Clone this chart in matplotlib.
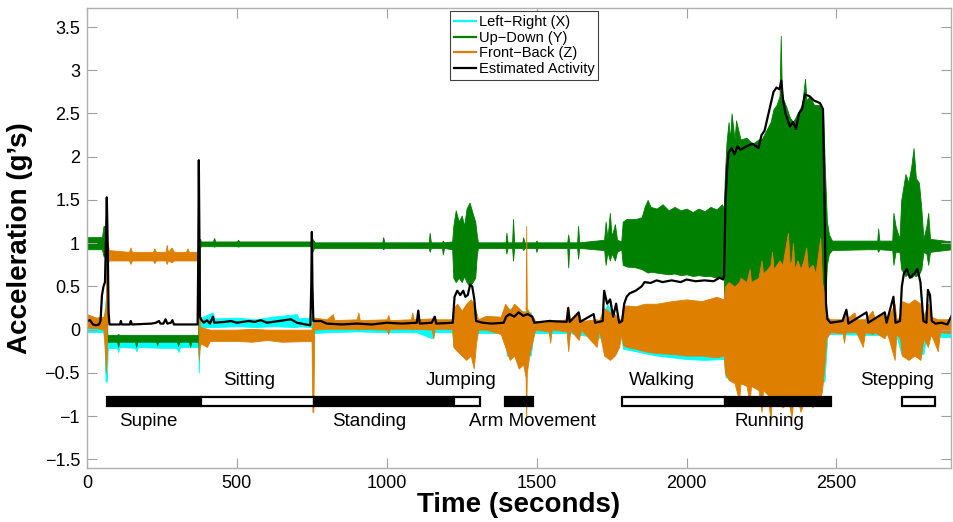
import matplotlib
matplotlib.use("Agg")
import matplotlib.pyplot as plt
from matplotlib.lines import Line2D
from matplotlib.patches import Rectangle
from matplotlib.ticker import FuncFormatter
import numpy as np

plt.rcParams['font.family'] = ['Liberation Sans', 'DejaVu Sans']

# ---------------- data ----------------
# envelopes: (time s, lower g, upper g)
leftright_env = [
    (0, -0.03, 0.08), (54, -0.03, 0.08), (58, -0.12, 0.2), (62, -0.6, 0.35), (66, -0.6, 0.3),
    (69, -0.24, -0.1), (72, -0.21, -0.12), (100, -0.21, -0.12), (104, -0.26, -0.12), (108, -0.2, -0.12),
    (160, -0.21, -0.12), (165, -0.25, -0.12), (170, -0.2, -0.12), (250, -0.21, -0.12), (300, -0.21, -0.12),
    (305, -0.26, -0.12), (310, -0.2, -0.12), (371, -0.2, -0.12), (373, -0.5, 0.15), (376, -0.05, 0.14),
    (380, 0.03, 0.14), (420, 0.03, 0.2), (425, 0.03, 0.13), (500, 0.04, 0.14), (560, 0.03, 0.12),
    (620, 0.04, 0.15), (700, 0.03, 0.18), (705, 0.04, 0.13), (749, 0.03, 0.14), (752, -0.35, 0.1),
    (757, -0.04, 0.05), (800, -0.03, 0.05), (900, -0.02, 0.04), (1000, -0.03, 0.05), (1100, -0.03, 0.05),
    (1150, -0.1, 0.05), (1155, -0.03, 0.05), (1218, -0.03, 0.05), (1225, -0.2, 0.2), (1290, -0.25, 0.25),
    (1300, -0.04, 0.06), (1395, -0.04, 0.06), (1400, -0.3, 0.25), (1480, -0.3, 0.2), (1490, -0.04, 0.06),
    (1600, -0.04, 0.06), (1605, -0.2, 0.1), (1610, -0.04, 0.06), (1720, -0.1, 0.1), (1735, -0.28, 0.3),
    (1750, -0.25, 0.2), (1765, -0.28, 0.15), (1780, -0.06, 0.06), (1788, -0.22, 0.25), (1830, -0.25, 0.25),
    (1900, -0.3, 0.27), (1950, -0.32, 0.28), (2000, -0.34, 0.3), (2060, -0.35, 0.3), (2124, -0.34, 0.3),
    (2130, -0.55, 0.4), (2460, -0.6, 0.4), (2470, -0.05, 0.06), (2600, -0.06, 0.06), (2700, -0.07, 0.06),
    (2716, -0.28, 0.2), (2790, -0.28, 0.2), (2800, -0.07, 0.06), (2885, -0.09, 0.06),
]

updown_env = [
    (0, 0.93, 1.07), (50, 0.93, 1.07), (55, 0.85, 1.2), (63, 0.85, 1.2), (66, -0.15, -0.05),
    (70, -0.14, -0.06), (100, -0.14, -0.06), (104, -0.2, -0.05), (108, -0.14, -0.06), (160, -0.14, -0.06),
    (164, -0.2, -0.06), (168, -0.14, -0.06), (230, -0.14, -0.06), (234, -0.18, -0.06), (238, -0.14, -0.06),
    (300, -0.14, -0.06), (304, -0.19, -0.06), (308, -0.14, -0.06), (340, -0.14, -0.06), (344, -0.2, -0.06),
    (348, -0.14, -0.06), (371, -0.14, -0.06), (373, -0.3, 1.05), (377, 0.95, 1.05), (380, 0.965, 1.02),
    (420, 0.965, 1.02), (424, 0.96, 1.06), (428, 0.965, 1.02), (500, 0.965, 1.02), (504, 0.96, 1.04),
    (508, 0.965, 1.02), (750, 0.965, 1.02), (752, 0.9, 1.05), (758, 0.95, 1.02), (760, 0.945, 1.01),
    (985, 0.945, 1.01), (988, 0.93, 1.07), (992, 0.945, 1.01), (1140, 0.945, 1.01), (1143, 0.9, 1.12),
    (1147, 0.945, 1.01), (1184, 0.945, 1.01), (1187, 0.87, 1.03), (1191, 0.945, 1.01), (1218, 0.93, 1.02),
    (1222, 0.6, 1.2), (1230, 0.55, 1.38), (1240, 0.6, 1.25), (1250, 0.55, 1.32), (1258, 0.62, 1.2),
    (1266, 0.55, 1.4), (1276, 0.5, 1.47), (1286, 0.55, 1.35), (1295, 0.6, 1.25), (1300, 0.85, 1.1),
    (1304, 0.945, 1.01), (1396, 0.945, 1.01), (1399, 0.88, 1.12), (1403, 0.945, 1.01), (1418, 0.945, 1.01),
    (1421, 0.8, 1.28), (1425, 0.945, 1.01), (1452, 0.945, 1.01), (1455, 0.92, 1.07), (1459, 0.945, 1.01),
    (1496, 0.945, 1.01), (1499, 0.9, 1.03), (1503, 0.945, 1.01), (1602, 0.945, 1.01), (1605, 0.72, 1.1),
    (1609, 0.945, 1.01), (1635, 0.945, 1.01), (1638, 0.82, 1.2), (1642, 0.945, 1.01), (1725, 0.92, 1.04),
    (1730, 0.75, 1.25), (1736, 0.9, 1.05), (1744, 0.8, 1.35), (1750, 0.88, 1.08), (1761, 0.8, 1.22),
    (1768, 0.9, 1.04), (1782, 0.93, 1.02), (1787, 0.75, 1.25), (1800, 0.73, 1.28), (1830, 0.72, 1.28),
    (1850, 0.7, 1.3), (1860, 0.68, 1.42), (1870, 0.66, 1.5), (1880, 0.67, 1.42), (1900, 0.66, 1.4),
    (1920, 0.65, 1.45), (1940, 0.64, 1.38), (1960, 0.65, 1.42), (1980, 0.63, 1.38), (2000, 0.64, 1.4),
    (2020, 0.62, 1.36), (2040, 0.63, 1.4), (2060, 0.62, 1.37), (2080, 0.62, 1.42), (2100, 0.6, 1.39),
    (2118, 0.6, 1.45), (2124, 0.6, 1.4), (2128, 0.0, 1.8), (2133, 0.0, 2.16), (2140, 0.0, 2.4),
    (2145, 0.0, 2.2), (2150, 0.0, 2.5), (2160, 0.0, 2.2), (2165, 0.0, 2.42), (2180, 0.0, 2.2),
    (2200, 0.0, 2.22), (2220, 0.0, 2.15), (2240, 0.0, 2.2), (2250, 0.0, 2.2), (2265, 0.0, 2.3),
    (2280, 0.0, 2.4), (2290, 0.0, 2.55), (2300, 0.0, 2.6), (2310, 0.0, 2.7), (2314, 0.0, 3.4),
    (2318, 0.0, 2.7), (2330, 0.0, 2.6), (2345, 0.0, 2.45), (2355, 0.0, 2.4), (2370, 0.0, 2.5),
    (2385, 0.0, 2.6), (2395, 0.0, 2.9), (2400, 0.0, 2.65), (2410, 0.0, 2.7), (2425, 0.0, 2.6),
    (2440, 0.0, 2.6), (2455, 0.0, 2.55), (2462, 0.3, 1.8), (2468, 0.75, 1.25), (2475, 0.88, 1.1),
    (2485, 0.92, 1.03), (2600, 0.93, 1.03), (2636, 0.93, 1.03), (2639, 0.9, 1.17), (2643, 0.93, 1.03),
    (2686, 0.92, 1.03), (2690, 0.75, 1.35), (2697, 0.9, 1.2), (2710, 0.9, 1.05), (2716, 0.7, 1.5),
    (2730, 0.62, 1.8), (2740, 0.65, 1.7), (2750, 0.6, 1.9), (2757, 0.63, 2.1), (2765, 0.62, 1.75),
    (2775, 0.64, 1.7), (2783, 0.7, 1.4), (2790, 0.9, 1.05), (2800, 0.88, 1.2), (2806, 0.75, 1.35),
    (2812, 0.9, 1.05), (2885, 0.93, 1.02),
]

frontback_env = [
    (0, 0.02, 0.18), (30, 0.02, 0.14), (55, 0.0, 0.15), (59, -0.2, 0.2), (63, -0.5, 0.3), (66, -0.3, 1.0),
    (69, 0.76, 1.0), (73, 0.8, 0.92), (140, 0.8, 0.9), (145, 0.76, 0.95), (150, 0.8, 0.9), (220, 0.8, 0.9),
    (225, 0.77, 0.94), (230, 0.8, 0.9), (262, 0.8, 0.9), (266, 0.76, 0.98), (270, 0.8, 0.9), (282, 0.78, 0.95),
    (290, 0.8, 0.9), (330, 0.8, 0.9), (335, 0.8, 0.94), (340, 0.8, 0.9), (371, 0.8, 0.9), (373, -0.35, 1.0),
    (376, -0.2, 0.03), (380, -0.16, 0.03), (400, -0.2, 0.01), (410, -0.13, 0.0), (500, -0.13, 0.0),
    (550, -0.14, 0.01), (600, -0.12, 0.0), (650, -0.14, 0.0), (749, -0.13, 0.0), (752, -0.95, 0.05),
    (755, -0.95, 0.12), (758, 0.0, 0.14), (800, 0.01, 0.12), (820, 0.01, 0.18), (825, 0.01, 0.11),
    (900, 0.01, 0.12), (905, 0.0, 0.2), (910, 0.01, 0.11), (1000, 0.0, 0.12), (1005, -0.05, 0.17),
    (1010, 0.01, 0.11), (1080, 0.01, 0.12), (1085, 0.0, 0.2), (1090, 0.01, 0.12), (1150, 0.0, 0.13),
    (1155, -0.1, 0.15), (1160, 0.01, 0.12), (1218, 0.01, 0.12), (1222, -0.2, 0.25), (1235, -0.25, 0.3),
    (1250, -0.3, 0.22), (1265, -0.35, 0.3), (1280, -0.3, 0.35), (1290, -0.45, 0.3), (1298, -0.15, 0.2),
    (1305, 0.0, 0.12), (1330, 0.0, 0.16), (1380, -0.05, 0.15), (1395, -0.2, 0.3), (1410, -0.35, 0.22),
    (1425, -0.3, 0.3), (1440, -0.45, 0.25), (1455, -0.4, 0.2), (1463, -0.55, 0.2), (1465, -1.02, 1.2),
    (1467, -0.5, 0.25), (1475, -0.3, 0.2), (1488, -0.1, 0.15), (1495, 0.0, 0.1), (1540, -0.02, 0.1),
    (1545, -0.15, 0.12), (1550, 0.0, 0.1), (1600, -0.02, 0.12), (1605, -0.25, 0.27), (1612, 0.0, 0.1),
    (1640, -0.12, 0.2), (1648, 0.0, 0.1), (1700, -0.2, 0.12), (1708, 0.0, 0.11), (1725, -0.3, 0.25),
    (1745, -0.35, 0.2), (1760, -0.3, 0.18), (1775, -0.2, 0.12), (1782, -0.05, 0.12), (1788, -0.18, 0.27),
    (1800, -0.2, 0.28), (1830, -0.22, 0.27), (1860, -0.25, 0.3), (1900, -0.27, 0.3), (1950, -0.28, 0.33),
    (2000, -0.3, 0.35), (2050, -0.3, 0.33), (2100, -0.32, 0.38), (2124, -0.3, 0.35), (2128, -0.5, 0.5),
    (2140, -0.58, 0.55), (2160, -0.62, 0.5), (2175, -0.82, 0.55), (2180, -0.62, 0.6), (2200, -0.65, 0.55),
    (2210, -0.85, 0.7), (2215, -0.65, 0.55), (2240, -0.7, 0.6), (2250, -0.95, 0.8), (2255, -0.7, 0.65),
    (2270, -0.75, 0.7), (2280, -1.05, 0.75), (2285, -0.75, 0.9), (2290, -0.8, 0.7), (2300, -0.85, 0.75),
    (2310, -0.85, 0.8), (2320, -0.9, 0.75), (2338, -0.85, 1.12), (2344, -0.9, 0.75), (2350, -1.02, 0.8),
    (2355, -0.85, 1.0), (2360, -0.85, 0.7), (2370, -0.8, 0.8), (2380, -0.95, 0.7), (2390, -0.85, 0.8),
    (2399, -0.8, 0.95), (2405, -0.75, 0.7), (2420, -0.9, 0.75), (2430, -0.75, 0.65), (2446, -0.8, 1.06),
    (2452, -0.7, 0.55), (2460, -0.4, 0.4), (2466, -0.1, 0.15), (2480, -0.03, 0.12), (2520, -0.04, 0.12),
    (2525, -0.15, 0.2), (2530, -0.03, 0.12), (2560, -0.03, 0.2), (2566, -0.03, 0.12), (2588, -0.2, 0.12),
    (2595, -0.03, 0.12), (2620, -0.05, 0.22), (2628, -0.03, 0.12), (2660, -0.1, 0.2), (2668, -0.03, 0.12),
    (2694, -0.35, 0.3), (2700, -0.05, 0.12), (2712, -0.1, 0.15), (2718, -0.3, 0.33), (2740, -0.35, 0.3),
    (2760, -0.3, 0.35), (2780, -0.35, 0.3), (2790, -0.1, 0.15), (2805, -0.2, 0.3), (2815, -0.05, 0.15),
    (2838, -0.25, 0.12), (2845, -0.03, 0.12), (2885, -0.04, 0.12),
]

# (time s, activity g)
activity = [
    (0, 0.1), (10, 0.11), (20, 0.06), (30, 0.05), (40, 0.06), (45, 0.1), (50, 0.4), (55, 0.5), (60, 0.55),
    (63, 1.0), (66, 1.53), (69, 1.0), (72, 0.2), (75, 0.06), (110, 0.06), (113, 0.1), (116, 0.06),
    (143, 0.06), (146, 0.1), (150, 0.06), (215, 0.07), (230, 0.08), (240, 0.1), (245, 0.07), (255, 0.07),
    (262, 0.12), (268, 0.07), (280, 0.08), (285, 0.11), (290, 0.06), (369, 0.06), (371, 0.8), (373, 1.96),
    (375, 1.0), (377, 0.15), (380, 0.12), (390, 0.08), (400, 0.11), (410, 0.07), (420, 0.15), (425, 0.08),
    (460, 0.09), (480, 0.1), (500, 0.08), (540, 0.1), (560, 0.09), (580, 0.11), (600, 0.08), (640, 0.1),
    (680, 0.12), (700, 0.08), (745, 0.05), (748, 0.5), (750, 1.13), (752, 0.5), (755, 0.1), (780, 0.1),
    (800, 0.07), (850, 0.06), (900, 0.07), (950, 0.06), (1000, 0.08), (1050, 0.07), (1100, 0.08),
    (1105, 0.22), (1110, 0.07), (1150, 0.08), (1160, 0.15), (1165, 0.07), (1220, 0.08), (1226, 0.38),
    (1235, 0.45), (1245, 0.4), (1255, 0.45), (1262, 0.38), (1270, 0.4), (1278, 0.52), (1285, 0.5),
    (1292, 0.35), (1298, 0.1), (1320, 0.08), (1350, 0.07), (1390, 0.08), (1398, 0.15), (1410, 0.18),
    (1425, 0.15), (1440, 0.2), (1455, 0.16), (1470, 0.18), (1485, 0.15), (1492, 0.08), (1540, 0.1),
    (1600, 0.09), (1605, 0.25), (1610, 0.09), (1640, 0.2), (1645, 0.09), (1690, 0.18), (1695, 0.08),
    (1720, 0.1), (1725, 0.45), (1735, 0.3), (1745, 0.35), (1755, 0.15), (1765, 0.3), (1775, 0.08),
    (1785, 0.1), (1792, 0.3), (1800, 0.38), (1810, 0.42), (1830, 0.45), (1850, 0.5), (1860, 0.55),
    (1880, 0.54), (1900, 0.57), (1920, 0.55), (1950, 0.57), (1980, 0.55), (2000, 0.58), (2030, 0.56),
    (2060, 0.57), (2090, 0.56), (2110, 0.6), (2122, 0.58), (2125, 0.62), (2130, 1.5), (2135, 1.85),
    (2140, 2.05), (2150, 2.1), (2160, 2.03), (2170, 2.12), (2180, 2.08), (2200, 2.12), (2220, 2.15),
    (2240, 2.1), (2250, 2.25), (2260, 2.3), (2270, 2.45), (2280, 2.6), (2290, 2.75), (2300, 2.8),
    (2310, 2.78), (2316, 2.88), (2322, 2.65), (2330, 2.5), (2345, 2.35), (2355, 2.4), (2365, 2.32),
    (2375, 2.5), (2385, 2.55), (2395, 2.72), (2410, 2.7), (2425, 2.65), (2445, 2.62), (2455, 2.55),
    (2460, 1.5), (2465, 0.3), (2470, 0.12), (2480, 0.08), (2520, 0.1), (2533, 0.23), (2540, 0.07),
    (2600, 0.2), (2606, 0.08), (2661, 0.2), (2667, 0.08), (2690, 0.38), (2697, 0.08), (2712, 0.1),
    (2718, 0.5), (2725, 0.65), (2735, 0.7), (2745, 0.6), (2760, 0.65), (2770, 0.7), (2780, 0.55),
    (2790, 0.1), (2800, 0.08), (2805, 0.46), (2812, 0.4), (2818, 0.1), (2830, 0.07), (2850, 0.08),
    (2870, 0.06), (2885, 0.17),
]

# activity bars: (start, end, fill)
bars = [
    (66, 380, 'black'), (380, 756, 'white'), (756, 1225, 'black'), (1225, 1311, 'white'),
    (1395, 1488, 'black'), (1786, 2128, 'white'), (2128, 2482, 'black'), (2717, 2827, 'white'),
]
labels_above = [("Sitting", 540), ("Jumping", 1247), ("Walking", 1917), ("Stepping", 2701)]
labels_below = [("Supine", 204), ("Standing", 940), ("Arm Movement", 1486), ("Running", 2277)]

series_names = ["Left\u2212Right (X)", "Up\u2212Down (Y)", "Front\u2212Back (Z)", "Estimated Activity"]
series_colors = ['#00ffff', '#008000', '#df7f00', 'black']

x_ticks = [0, 500, 1000, 1500, 2000, 2500]
y_ticks = [-1.5, -1, -0.5, 0, 0.5, 1, 1.5, 2, 2.5, 3, 3.5]

# ---------------- drawing ----------------
fig = plt.figure(figsize=(9.54, 5.22), dpi=100)
ax = fig.add_axes([87 / 954, 54 / 522, 864 / 954, 460 / 522])

for env, col in zip([leftright_env, updown_env, frontback_env], series_colors[:3]):
    a = np.array(env, dtype=float)
    ax.fill_between(a[:, 0], a[:, 1], a[:, 2], color=col, linewidth=0.6, edgecolor=col)

act = np.array(activity, dtype=float)
ax.plot(act[:, 0], act[:, 1], color='black', lw=1.6, solid_joinstyle='round')

bar_y, bar_h = -0.885, 0.11
for s, e, fc in bars:
    ax.add_patch(Rectangle((s, bar_y), e - s, bar_h, facecolor=fc, edgecolor='black', lw=1.6, zorder=5))
for txt, t in labels_above:
    ax.text(t, -0.585, txt, ha='center', va='center', fontsize=13.5, zorder=6)
for txt, t in labels_below:
    ax.text(t, -1.06, txt, ha='center', va='center', fontsize=13.5, zorder=6)

ax.set_xlim(0, 2882)
ax.set_ylim(-1.6, 3.72)
ax.set_xticks(x_ticks)
ax.set_yticks(y_ticks)
fmt = FuncFormatter(lambda v, p: ('%g' % v).replace('-', '\u2212'))
ax.yaxis.set_major_formatter(fmt)
ax.xaxis.set_major_formatter(fmt)
ax.tick_params(direction='in', length=7, width=0.8, color='#a0a0a0', labelsize=13,
               top=True, right=True, labelcolor='black', pad=5)
for sp in ax.spines.values():
    sp.set_color('#b0b0b0')
    sp.set_linewidth(1.0)

ax.set_xlabel("Time (seconds)", fontsize=20, fontweight='bold', labelpad=0)
ax.set_ylabel("Acceleration (g\u2019s)", fontsize=20, fontweight='bold', labelpad=8)

handles = [Line2D([], [], color=c, lw=1.6) for c in series_colors]
leg = ax.legend(handles, series_names, loc='upper center', bbox_to_anchor=(0.506, 0.993),
                fontsize=10.5, labelspacing=0.12, handlelength=1.55, handletextpad=0.2,
                borderpad=0.25, borderaxespad=0.0, fancybox=False, framealpha=1.0)
leg.get_frame().set_edgecolor('#404040')
leg.get_frame().set_linewidth(0.8)

fig.savefig("out.png", dpi=100)
